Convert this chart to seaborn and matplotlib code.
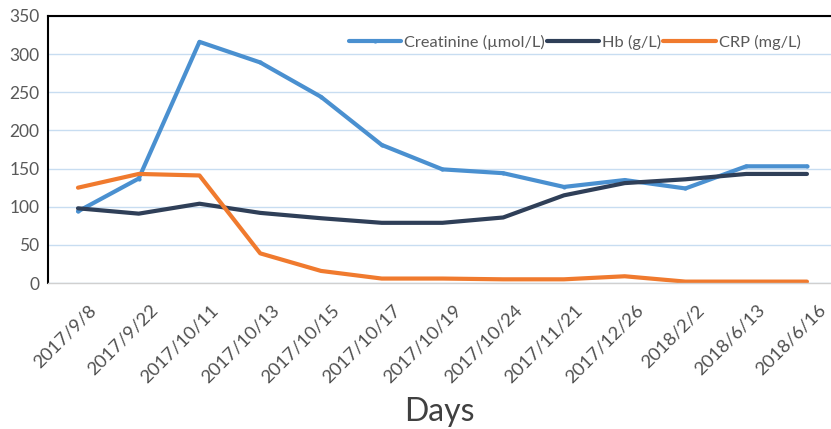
import pandas as pd
import matplotlib.pyplot as plt
from matplotlib.transforms import ScaledTranslation
import seaborn as sns

dates = ["2017/9/8", "2017/9/22", "2017/10/11", "2017/10/13", "2017/10/15",
         "2017/10/17", "2017/10/19", "2017/10/24", "2017/11/21", "2017/12/26",
         "2018/2/2", "2018/6/13", "2018/6/16"]
creatinine = [94, 137, 316, 289, 244, 181, 149, 144, 126, 135, 124, 153, 153]
hb = [98, 91, 104, 92, 85, 79, 79, 86, 115, 131, 136, 143, 143]
crp = [125, 143, 141, 39, 16, 6, 6, 5, 5, 9, 2, 2, 2]

series_names = ["Creatinine (\u00b5mol/L)", "Hb (g/L)", "CRP (mg/L)"]
colors = ["#4A90D0", "#2F3F58", "#F07A2E"]

df = pd.DataFrame({"date": dates, series_names[0]: creatinine,
                   series_names[1]: hb, series_names[2]: crp})

sns.set_style("white")
plt.rcParams["font.family"] = ["Lato", "DejaVu Sans"]
text_color = "#595959"

fig = plt.figure(figsize=(8.31, 4.29), dpi=100)
ax = fig.add_axes([0.0573, 0.340, 0.943, 0.623])

for name, col in zip(series_names, colors):
    mk = "o" if name.startswith("Creat") else None
    sns.lineplot(data=df, x="date", y=name, ax=ax, color=col, linewidth=3,
                 label=name, sort=False, marker=mk, markersize=3,
                 markeredgewidth=0)

ax.set_ylim(0, 350)
ax.set_xlim(-0.5, 12.4)
ax.set_yticks(range(0, 351, 50))
ax.yaxis.grid(True, color="#C8DDF1", linewidth=1)
ax.set_axisbelow(True)

for s in ["left", "top"]:
    ax.spines[s].set_color("black")
    ax.spines[s].set_linewidth(1.5)
ax.spines["right"].set_visible(False)
ax.spines["bottom"].set_color("#D0D0D0")
ax.spines["bottom"].set_linewidth(1)

ax.set_xticks(range(len(dates)))
ax.set_xticklabels(dates, rotation=45, ha="right", va="top",
                   rotation_mode="anchor", fontsize=13.3, color="#505050")
ax.tick_params(axis="x", length=0, pad=13.5)
# excel puts the rotated labels a bit right of the category centre
shift = ScaledTranslation(7.5 / 72, 0, fig.dpi_scale_trans)
for lbl in ax.get_xticklabels():
    lbl.set_transform(lbl.get_transform() + shift)
ax.set_xticks([i - 0.5 for i in range(len(dates))], minor=True)
ax.tick_params(axis="x", which="minor", length=5, color="#C0C0C0", width=1)
ax.tick_params(axis="y", length=0, labelsize=12.5, labelcolor=text_color, pad=6)

ax.set_xlabel("Days", fontsize=23, color="#404040", labelpad=8)
ax.set_ylabel("")

ax.legend(loc="upper right", bbox_to_anchor=(0.98, 0.985), ncol=3, frameon=False,
          handlelength=3.2, handletextpad=0.2, columnspacing=0.1,
          fontsize=11.8, labelcolor=text_color)

fig.savefig("out.png", dpi=100)
